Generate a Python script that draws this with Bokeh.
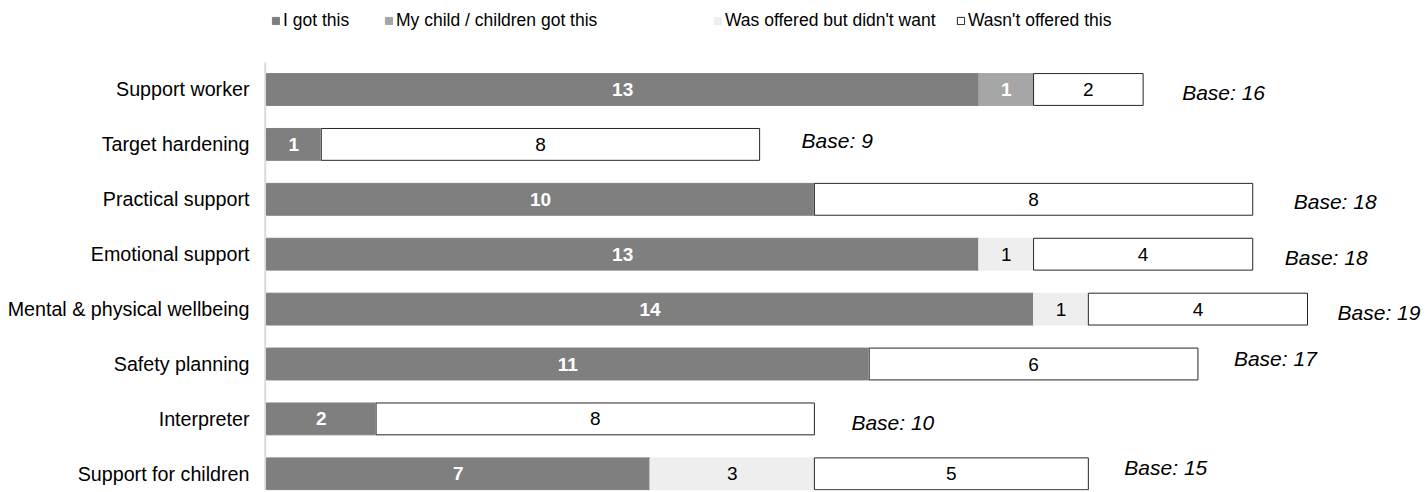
from bokeh.plotting import figure
from bokeh.models import ColumnDataSource, FixedTicker, Legend, LegendItem
from bokeh.core.properties import value
from bokeh.embed import file_html
from bokeh.resources import INLINE

categories = ["Support worker", "Target hardening", "Practical support", "Emotional support",
              "Mental & physical wellbeing", "Safety planning", "Interpreter", "Support for children"]
got_this = [13, 1, 10, 13, 14, 11, 2, 7]
child_got = [1, 0, 0, 0, 0, 0, 0, 0]
offered_declined = [0, 0, 0, 1, 1, 0, 0, 3]
not_offered = [2, 8, 8, 4, 4, 6, 8, 5]
base = [16, 9, 18, 18, 19, 17, 10, 15]

series_names = ["I got this", "My child / children got this", "Was offered but didn't want", "Wasn't offered this"]
series_keys = ["got", "child", "declined", "notoff"]

# styling
colors = ["#7f7f7f", "#a6a6a6", "#eeeeee", "#ffffff"]
line_colors = ["#7f7f7f", "#a6a6a6", "#eeeeee", "#262626"]
label_colors = ["white", "white", "black", "black"]
label_styles = ["bold", "bold", "normal", "normal"]
base_dx = [39, 42, 41, 32, 30, 36, 37, 36]   # label nudges in pixels
base_dy = [3, -4, 2, 3, 3, -6, 4, -6]
FONT = "Liberation Sans"

n = len(categories)
ypos = [n - 1 - i for i in range(n)]

data = dict(y=ypos, got=got_this, child=child_got, declined=offered_declined, notoff=not_offered)
src = ColumnDataSource(data)

p = figure(width=1427, height=492, output_backend="svg", toolbar_location=None,
           x_range=(-0.073, 21.19), y_range=(-0.304, 8.621),
           min_border_left=262, min_border_right=0, min_border_top=0, min_border_bottom=2)
p.outline_line_color = None
p.xgrid.visible = False
p.ygrid.visible = False
p.xaxis.visible = False

# vertical axis line
p.segment(x0=[-0.022], x1=[-0.022], y0=[-0.304], y1=[7.492], line_color="#d9d9d9", line_width=2)

renderers = p.hbar_stack(series_keys, y="y", height=0.58, source=src,
                         fill_color=colors, line_color=line_colors, line_width=1)

# value labels
for k, key in enumerate(series_keys):
    xs, ys, ts = [], [], []
    for i in range(n):
        left = sum(data[series_keys[j]][i] for j in range(k))
        v = data[key][i]
        if v > 0:
            xs.append(left + v / 2)
            ys.append(ypos[i])
            ts.append(str(v))
    if xs:
        p.text(x=xs, y=ys, text=ts, text_align="center", text_baseline="middle",
               text_font=value(FONT), text_font_size="19px", text_font_style=label_styles[k],
               text_color=label_colors[k])

# base labels
totals = [got_this[i] + child_got[i] + offered_declined[i] + not_offered[i] for i in range(n)]
bsrc = ColumnDataSource(dict(x=totals, y=ypos, t=[f"Base: {b}" for b in base], dx=base_dx, dy=base_dy))
p.text(x="x", y="y", text="t", x_offset="dx", y_offset="dy", source=bsrc,
       text_align="left", text_baseline="middle", text_font=value(FONT),
       text_font_size="21px", text_font_style="italic", text_color="black")

yax = p.yaxis[0]
yax.ticker = FixedTicker(ticks=ypos)
yax.major_label_overrides = {ypos[i]: categories[i] for i in range(n)}
yax.major_tick_line_color = None
yax.minor_tick_line_color = None
yax.major_tick_out = 0
yax.major_tick_in = 0
yax.axis_line_color = None
yax.major_label_standoff = 13
yax.major_label_text_font = FONT
yax.major_label_text_font_size = "19.7px"
yax.major_label_text_color = "black"

# legends, one per item, positioned along the top
legend_x = [9, 122, 451, 694]
for k in range(4):
    lg = Legend(items=[LegendItem(label=series_names[k], renderers=[renderers[k]])],
                location=(legend_x[k], 459), orientation="horizontal",
                glyph_width=9, glyph_height=9, label_standoff=3,
                padding=0, margin=0, border_line_color=None, background_fill_alpha=0,
                label_text_font=FONT, label_text_font_size="17.5px", label_text_color="black",
                label_height=9)
    p.add_layout(lg, "center")

open("out.html", "w").write(file_html(p, INLINE))
